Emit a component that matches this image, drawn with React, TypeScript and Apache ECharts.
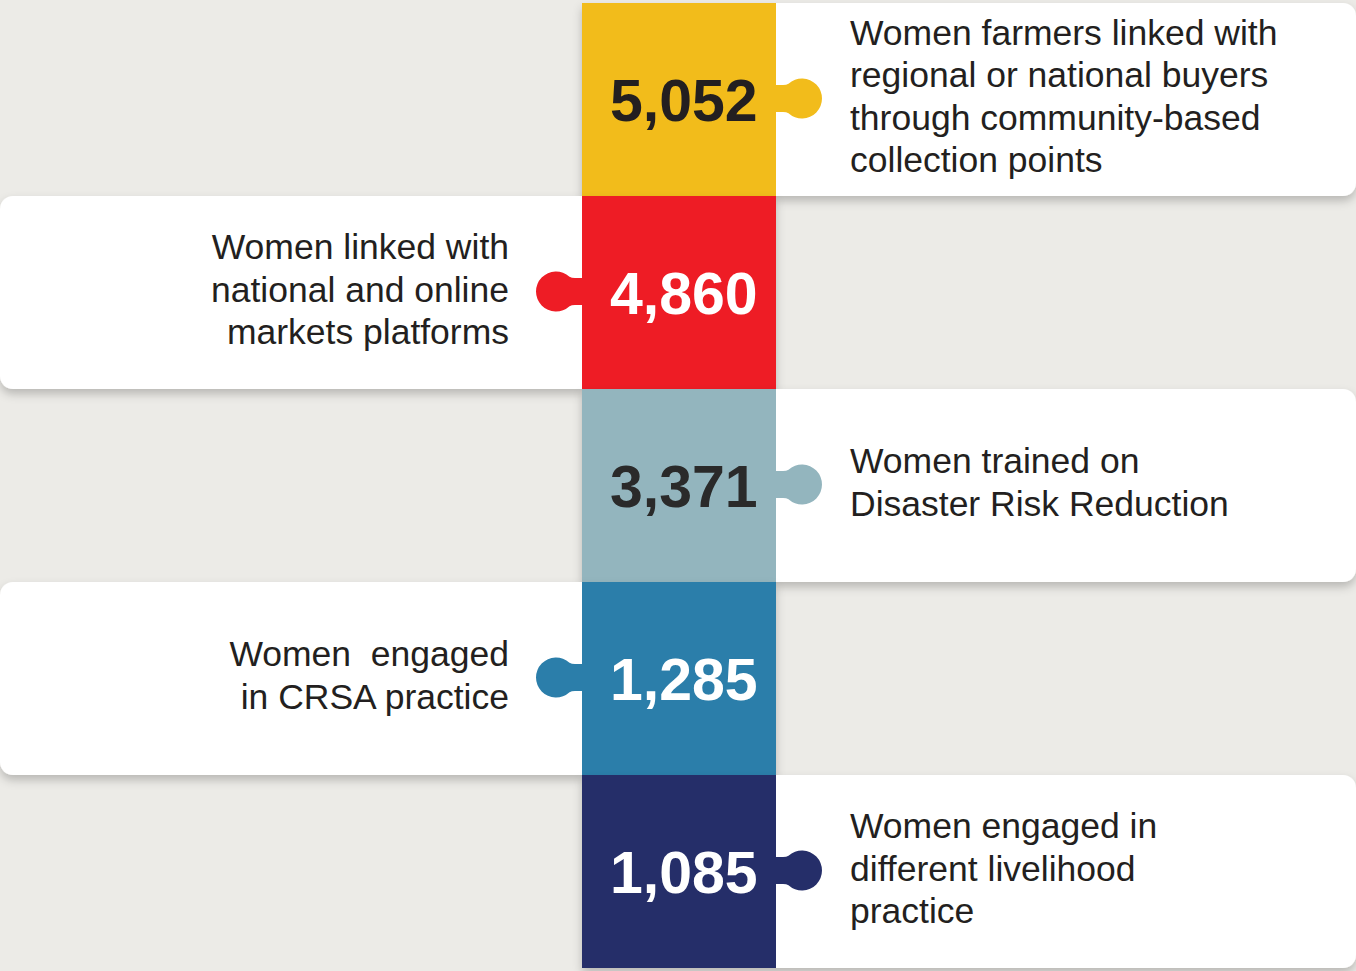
import React, { useEffect, useRef } from "react";
import * as echarts from "echarts";

// ---- data ----
const rowIds = ["r1", "r2", "r3", "r4", "r5"];
const values = [5052, 4860, 3371, 1285, 1085];
const descriptions = [
  "Women farmers linked with\nregional or national buyers\nthrough community-based\ncollection points",
  "Women linked with\nnational and online\nmarkets platforms",
  "Women trained on\nDisaster Risk Reduction",
  "Women  engaged\nin CRSA practice",
  "Women engaged in\ndifferent livelihood\npractice",
];
const sides = ["right", "left", "right", "left", "right"];

// ---- styles ----
const blockColors = ["#F2BC1B", "#EE1C25", "#93B5BE", "#2B7EAA", "#252E69"];
const numberColors = ["#231F20", "#FFFFFF", "#2A2A2A", "#FFFFFF", "#FFFFFF"];
const BG = "#ECEBE7";
const FONT = "'Liberation Sans', Arial, Helvetica, sans-serif";

function knobPath(x: number, y: number, d: number) {
  const sweep = d > 0 ? 1 : 0;
  const X = (v: number) => x + v * d;
  return (
    `M${X(-1)},${y - 13.5} L${X(7)},${y - 13.5} ` +
    `Q${X(10.5)},${y - 13.5} ${X(12.5)},${y - 14.76} ` +
    `A20,20 0 1 ${sweep} ${X(12.5)},${y + 14.76} ` +
    `Q${X(10.5)},${y + 13.5} ${X(7)},${y + 13.5} L${X(-1)},${y + 13.5} Z`
  );
}

export default function App() {
  const ref = useRef<HTMLDivElement>(null);
  useEffect(() => {
    document.body.style.margin = "0";
    const chart = echarts.init(ref.current!, null, { renderer: "svg" });
    const option: any = {
      animation: false,
      backgroundColor: BG,
      grid: { left: 0, right: 0, top: 3, bottom: 3 },
      xAxis: { type: "value", min: 0, max: 1356, show: false },
      yAxis: { type: "category", data: rowIds, inverse: true, show: false },
      series: [
        {
          type: "custom",
          data: values.map((v, i) => [v, i]),
          encode: { x: 0, y: 1 },
          renderItem: (params: any, api: any) => {
            const idx = params.dataIndex;
            const cy = api.coord([0, idx])[1];
            const h = api.size([0, 1])[1];
            const top = cy - h / 2;
            const bx0 = api.coord([582, idx])[0];
            const bx1 = api.coord([776, idx])[0];
            const W = api.coord([1356, idx])[0];
            const X0 = api.coord([0, idx])[0];
            const right = sides[idx] === "right";
            const children: any[] = [];
            const shadow = {
              shadowBlur: 10,
              shadowOffsetY: 5,
              shadowColor: "rgba(0,0,0,0.22)",
            };
            if (right) {
              children.push({
                type: "rect",
                shape: { x: bx0, y: top, width: W - bx0, height: h, r: [0, 13, 13, 0] },
                style: { fill: "#FFFFFF", ...shadow },
              });
            } else {
              children.push({
                type: "rect",
                shape: { x: X0, y: top, width: bx1 - X0, height: h, r: [13, 0, 0, 13] },
                style: { fill: "#FFFFFF", ...shadow },
              });
            }
            children.push({
              type: "rect",
              shape: { x: bx0, y: top, width: bx1 - bx0, height: h },
              style: { fill: blockColors[idx] },
            });
            children.push({
              type: "path",
              shape: { pathData: right ? knobPath(bx1, cy - 1, 1) : knobPath(bx0, cy - 1, -1) },
              style: { fill: blockColors[idx] },
            });
            children.push({
              type: "text",
              style: {
                text: values[idx].toLocaleString("en-US"),
                x: bx0 + 28,
                y: cy + 1,
                fill: numberColors[idx],
                fontFamily: FONT,
                fontWeight: "bold",
                fontSize: 59,
                align: "left",
                verticalAlign: "middle",
              },
            });
            children.push({
              type: "text",
              style: {
                text: descriptions[idx],
                x: right ? bx1 + 74 : bx0 - 73,
                y: cy - 3,
                fill: "#231F20",
                fontFamily: FONT,
                fontSize: 35.5,
                lineHeight: 42.5,
                align: right ? "left" : "right",
                verticalAlign: "middle",
              },
            });
            return { type: "group", children };
          },
        },
      ],
    };
    chart.setOption(option);
    return () => chart.dispose();
  }, []);
  return <div ref={ref} style={{ width: 1356, height: 971 }} />;
}
